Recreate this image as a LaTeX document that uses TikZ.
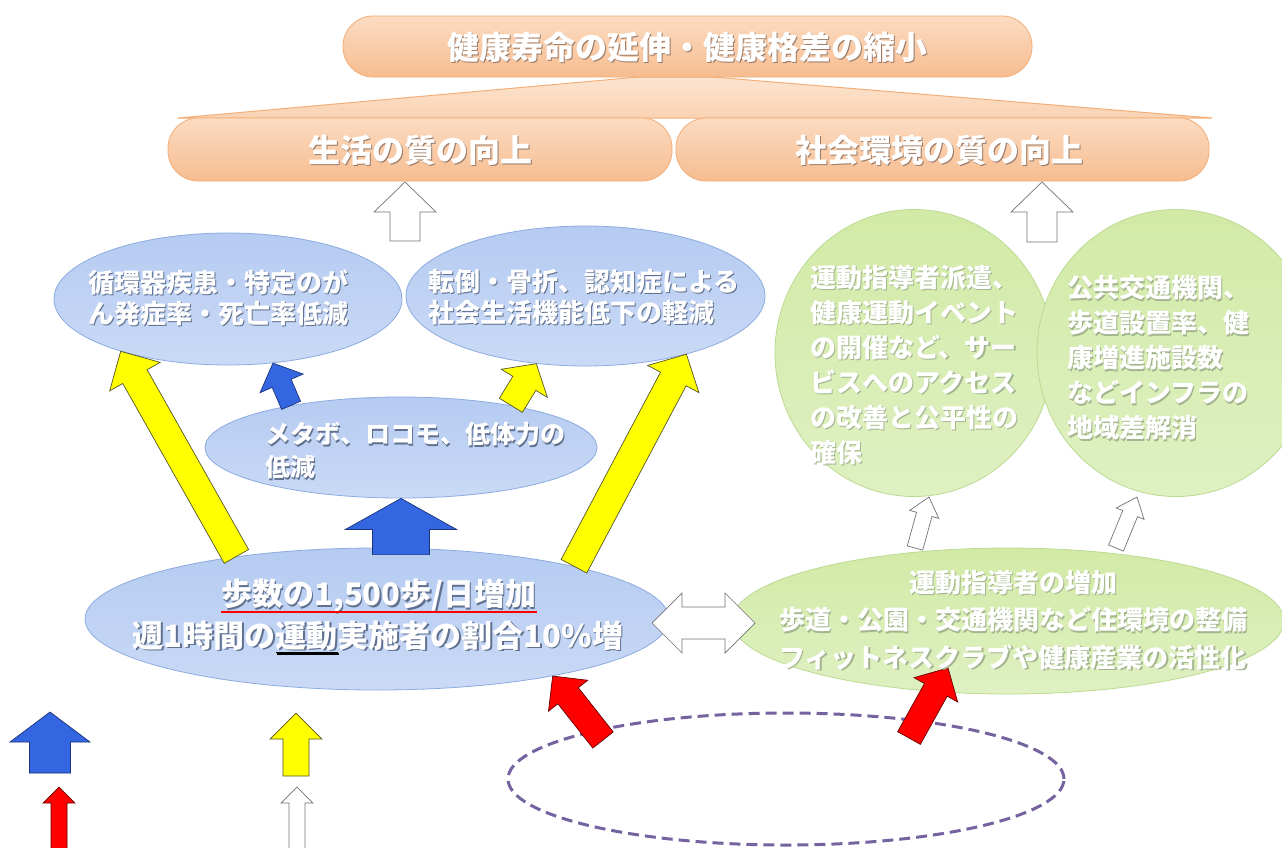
\documentclass[tikz,border=0pt]{standalone}
\usepackage{fontspec}
\newfontfamily\jp{Noto Sans CJK JP}
\usetikzlibrary{shapes.geometric,calc}

\definecolor{ortop}{HTML}{FCDCC2}
\definecolor{orbot}{HTML}{F6BC8F}
\definecolor{oredge}{HTML}{F3AE78}
\definecolor{trtop}{HTML}{FCE4D0}
\definecolor{trbot}{HTML}{FAD2B2}
\definecolor{bltop}{HTML}{B5CBF1}
\definecolor{blbot}{HTML}{CADAF6}
\definecolor{bledge}{HTML}{8CACE0}
\definecolor{grtop}{HTML}{D2EAA6}
\definecolor{grbot}{HTML}{DFF0C2}
\definecolor{gredge}{HTML}{BCDB92}
\definecolor{arblue}{HTML}{3366E0}
\definecolor{arbluedge}{HTML}{1A337A}
\definecolor{aryel}{HTML}{FFFF00}
\definecolor{aryeledge}{HTML}{55552A}
\definecolor{arred}{HTML}{FF0000}
\definecolor{arrededge}{HTML}{660000}
\definecolor{dashc}{HTML}{7563A0}
\definecolor{shor}{HTML}{9A7A66}
\definecolor{shbl}{HTML}{60708F}
\definecolor{shgr}{HTML}{A3B58E}

\tikzset{
  orbox/.style={rectangle, rounded corners=30pt, inner sep=0pt, top color=ortop, bottom color=orbot, draw=oredge, line width=0.8pt},
  blell/.style={ellipse, inner sep=0pt, top color=bltop, bottom color=blbot, draw=bledge, line width=0.8pt},
  grell/.style={ellipse, inner sep=0pt, top color=grtop, bottom color=grbot, draw=gredge, line width=0.8pt},
  yarrow/.style={fill=aryel, draw=aryeledge, line width=0.7pt},
  barrow/.style={fill=arblue, draw=arbluedge, line width=0.7pt},
  rarrow/.style={fill=arred, draw=arrededge, line width=0.7pt},
  warrow/.style={fill=white, draw=black!55, line width=0.7pt},
  goalring/.style={ellipse, inner sep=0pt, draw=dashc, line width=3pt, dash pattern=on 11pt off 6pt},
  tbig/.style={inner sep=0pt, font=\jp\bfseries\fontsize{32}{38}\selectfont},
  tbot/.style={inner sep=0pt, font=\jp\bfseries\fontsize{31}{38}\selectfont},
  tmid/.style={inner sep=0pt, align=left, font=\jp\bfseries\fontsize{26}{31}\selectfont},
  tsmall/.style={inner sep=0pt, align=left, font=\jp\bfseries\fontsize{25}{33}\selectfont},
  tgreen/.style={inner sep=0pt, align=left, font=\jp\bfseries\fontsize{26}{35}\selectfont},
  tgbot/.style={inner sep=0pt, align=center, font=\jp\bfseries\fontsize{26}{37.5}\selectfont},
}

% white lettering with a soft dark edge
\newcommand\shtext[5]{%
  \node[#3, text=#4] at ($(#2)+(1.3,1.3)$) {#5};
  \node[#3, text=white] (#1) at (#2) {#5};}

% block arrow: style, base, tip, shaft half width, head half width, head length
\newcommand\blockarrow[6]{%
  \coordinate (ba-h) at ($(#3)!#6!(#2)$);
  \draw[#1] ($(#2)!#4!90:(#3)$) -- ($(ba-h)!#4!-90:(#2)$) -- ($(ba-h)!#5!-90:(#2)$)
    -- (#3) -- ($(ba-h)!#5!90:(#2)$) -- ($(ba-h)!#4!90:(#2)$) -- ($(#2)!#4!-90:(#3)$) -- cycle;}

% two-headed block arrow
\newcommand\dblockarrow[6]{%
  \coordinate (da-a) at ($(#2)!#6!(#3)$);
  \coordinate (da-b) at ($(#3)!#6!(#2)$);
  \draw[#1] (#2) -- ($(da-a)!#5!90:(#3)$) -- ($(da-a)!#4!90:(#3)$) -- ($(da-b)!#4!-90:(#2)$)
    -- ($(da-b)!#5!-90:(#2)$) -- (#3) -- ($(da-b)!#5!90:(#2)$) -- ($(da-b)!#4!90:(#2)$)
    -- ($(da-a)!#4!-90:(#3)$) -- ($(da-a)!#5!-90:(#3)$) -- cycle;}

\newcommand\jul[1]{\makebox[0pt][l]{\color{black}\rule[-0.2em]{2em}{1.6pt}}#1}

\begin{document}
\begin{tikzpicture}[x=1pt,y=-1pt]
\useasboundingbox[fill=white] (0,0) rectangle (1282,847);

% ---- goals at the top ----
\draw[top color=trtop, bottom color=trbot, draw=oredge, line width=1pt]
  (639,77) -- (712,77) -- (1212,118) -- (178,118) -- cycle;
\node[orbox, minimum width=689pt, minimum height=61pt] (goal) at (687.5,46.5) {};
\node[orbox, minimum width=504pt, minimum height=63pt] (life) at (420,149.5) {};
\node[orbox, minimum width=533pt, minimum height=63pt] (soc) at (942.5,149.5) {};

\coordinate (w1b) at (405,241); \coordinate (w1t) at (405,182);
\coordinate (w2b) at (1042,242); \coordinate (w2t) at (1042,182);
\blockarrow{warrow}{w1b}{w1t}{15pt}{31pt}{30pt}
\blockarrow{warrow}{w2b}{w2t}{15pt}{31pt}{30pt}

% ---- outcome ellipses ----
\node[blell, minimum width=348pt, minimum height=132pt] (bl) at (228,299) {};
\node[blell, minimum width=359pt, minimum height=140pt] (br) at (585.5,296) {};
\node[blell, minimum width=392pt, minimum height=101pt] (mid) at (401,447.5) {};
\node[blell, minimum width=584pt, minimum height=142pt] (bot) at (377,619) {};

\node[grell, minimum width=278pt, minimum height=287pt] (gl) at (914,353) {};
\node[grell, minimum width=278pt, minimum height=287pt] (gr) at (1176,353) {};
\node[grell, minimum width=552pt, minimum height=146pt] (gbot) at (1008,621) {};

\node[goalring, minimum width=556pt, minimum height=132pt] (ring) at (786,779) {};

% ---- connectors ----
\blockarrow{yarrow}{bot.156}{bl.206}{14pt}{29pt}{29pt}
\blockarrow{yarrow}{bot.15}{br.330}{14.5pt}{29pt}{28pt}
\blockarrow{yarrow}{mid.21}{br.234}{13.5pt}{27pt}{23pt}
\blockarrow{barrow}{mid.159}{bl.305}{10.3pt}{23.5pt}{22pt}
\coordinate (bbase) at ($(mid.south |- bot.north)+(0,7)$);
\blockarrow{barrow}{bbase}{mid.south}{28.5pt}{55.5pt}{31pt}

\coordinate (r1b) at (603,740);
\coordinate (r2b) at (909,738); \coordinate (r2t) at (948,668);
\blockarrow{rarrow}{r1b}{bot.342}{13pt}{25pt}{25pt}
\blockarrow{rarrow}{r2b}{r2t}{13pt}{25pt}{25pt}

\coordinate (dl) at (652,623); \coordinate (dr) at (755,623);
\dblockarrow{warrow}{dl}{dr}{16pt}{30pt}{30pt}

\coordinate (g1b) at (915,548); \coordinate (g1t) at (929,497);
\coordinate (g2b) at (1116,548); \coordinate (g2t) at (1137,497);
\blockarrow{warrow}{g1b}{g1t}{8pt}{15pt}{18pt}
\blockarrow{warrow}{g2b}{g2t}{8pt}{15pt}{18pt}

% ---- key arrows ----
\coordinate (kb1) at (50,773); \coordinate (kb2) at (50,712);
\coordinate (ky1) at (296,776); \coordinate (ky2) at (296,713);
\coordinate (kr1) at (59,850); \coordinate (kr2) at (59,787);
\coordinate (kw1) at (297,850); \coordinate (kw2) at (297,787);
\blockarrow{barrow}{kb1}{kb2}{20.5pt}{40pt}{30pt}
\blockarrow{yarrow}{ky1}{ky2}{13pt}{26pt}{26pt}
\blockarrow{rarrow}{kr1}{kr2}{8pt}{16pt}{16pt}
\blockarrow{warrow}{kw1}{kw2}{8pt}{16pt}{16pt}

% ---- lettering ----
\shtext{tgoal}{687,47}{tbig}{shor}{健康寿命の延伸・健康格差の縮小}
\shtext{tlife}{420,150}{tbig}{shor}{生活の質の向上}
\shtext{tsoc}{939,150}{tbig}{shor}{社会環境の質の向上}

\shtext{tbl}{88,298}{tmid,anchor=west}{shbl}{循環器疾患・特定のが\\ん発症率・死亡率低減}
\shtext{tbr}{428,297}{tmid,anchor=west}{shbl}{転倒・骨折、認知症による\\社会生活機能低下の軽減}
\shtext{tmd}{265,451}{tsmall,anchor=west}{shbl}{メタボ、ロコモ、低体力の\\低減}

\shtext{tb1}{379,596}{tbot}{shbl}{歩数の1,500歩/日増加}
\draw[red, line width=2pt] ([yshift=-6pt]tb1.base west) -- ([yshift=-6pt]tb1.base east);
\shtext{tb2}{378,637}{tbot}{shbl}{週1時間の\jul{運動}実施者の割合10\%増}

\shtext{tgl}{810,365}{tgreen,anchor=west}{shgr}{運動指導者派遣、\\健康運動イベント\\の開催など、サー\\ビスへのアクセス\\の改善と公平性の\\確保}
\shtext{tgr}{1067,358}{tgreen,anchor=west}{shgr}{公共交通機関、\\歩道設置率、健\\康増進施設数\\などインフラの\\地域差解消}
\shtext{tgb}{1013,620}{tgbot}{shgr}{運動指導者の増加\\歩道・公園・交通機関など住環境の整備\\フィットネスクラブや健康産業の活性化}

\end{tikzpicture}
\end{document}
